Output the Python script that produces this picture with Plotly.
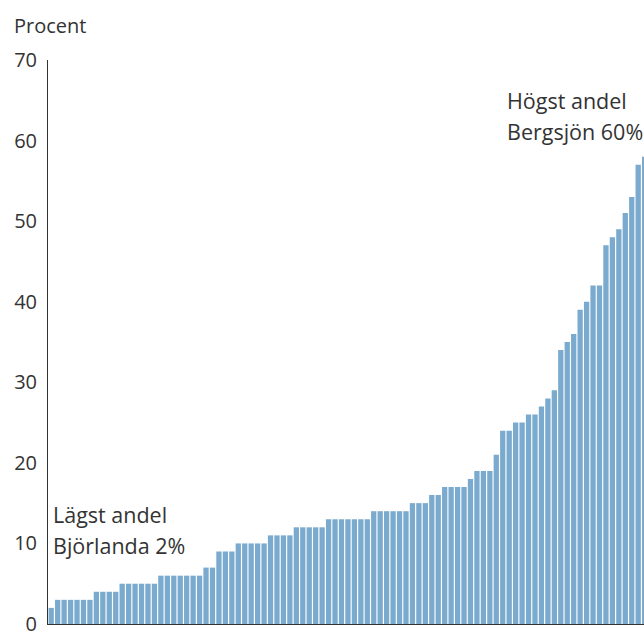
import plotly.graph_objects as go

# Share per district (percent), sorted ascending; last bar (Bergsjön 60%) lies outside the visible crop
values = [2,
          3, 3, 3, 3, 3, 3,
          4, 4, 4, 4,
          5, 5, 5, 5, 5, 5,
          6, 6, 6, 6, 6, 6, 6,
          7, 7,
          9, 9, 9,
          10, 10, 10, 10, 10,
          11, 11, 11, 11,
          12, 12, 12, 12, 12,
          13, 13, 13, 13, 13, 13, 13,
          14, 14, 14, 14, 14, 14,
          15, 15, 15,
          16, 16,
          17, 17, 17, 17,
          18,
          19, 19, 19,
          21,
          24, 24,
          25, 25,
          26, 26,
          27, 28, 29, 34, 35, 36, 39, 40,
          42, 42,
          47, 48, 49, 51, 53, 57, 58, 60]
positions = list(range(len(values)))
y_ticks = [0, 10, 20, 30, 40, 50, 60, 70]

FONT = "Open Sans, sans-serif"
TXT = "#333333"

fig = go.Figure(go.Bar(
    x=positions, y=values,
    marker=dict(color="rgb(122,170,205)", line=dict(width=0)),
    hoverinfo="skip",
))

W, H = 644, 631
L, T = 48, 60
B = H - 624
pw, ph = W - L, H - T - B

def px(xp):
    return (xp - L) / pw

def py(yp):
    return (H - B - yp) / ph

annos = [
    ("Procent", 12, 26, 20),
    ("Lägst andel", 51, 514, 21.5),
    ("Björlanda 2%", 51, 545, 21.5),
    ("Högst andel", 505, 100, 21.5),
    ("Bergsjön 60%", 505, 131, 21.5),
]
for text, xx, yy, fs in annos:
    fig.add_annotation(text=text, xref="paper", yref="paper", x=px(xx), y=py(yy),
                       xanchor="left", yanchor="middle", showarrow=False,
                       font=dict(family=FONT, size=fs, color=TXT))

fig.update_layout(
    width=W, height=H,
    margin=dict(l=L, r=0, t=T, b=B, pad=0, autoexpand=False),
    plot_bgcolor="white", paper_bgcolor="white",
    bargap=0.18,
    showlegend=False,
    font=dict(family=FONT, size=20, color=TXT),
    xaxis=dict(range=[-0.5, 91.9], showticklabels=False, ticks="", showgrid=False,
               zeroline=False, showline=True, linecolor="#333333", linewidth=1,
               layer="below traces", fixedrange=True, automargin=False),
    yaxis=dict(range=[0, 70], tickvals=y_ticks, ticks="", showgrid=False,
               zeroline=False, showline=True, linecolor="#333333", linewidth=1,
               ticklabelstandoff=6, ticklabeloverflow="allow", automargin=False,
               tickfont=dict(family=FONT, size=20, color=TXT),
               layer="below traces", fixedrange=True),
)

page_fix = ("document.documentElement.style.overflow='hidden';"
            "document.body.style.margin='0';"
            "document.body.style.overflow='hidden';")
fig.write_html("out.html", config={"displayModeBar": False}, post_script=page_fix)
